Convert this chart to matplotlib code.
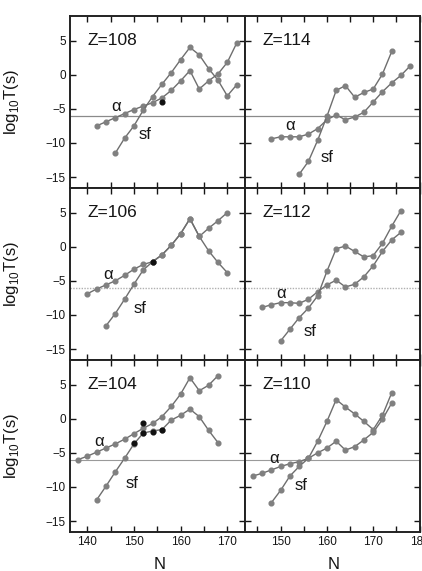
import matplotlib
matplotlib.use("Agg")
import matplotlib.pyplot as plt
from matplotlib.ticker import MultipleLocator, FuncFormatter

plt.rcParams['font.family'] = ['Liberation Sans', 'DejaVu Sans']

# ---------------- data: log10 of half-lives (s) versus neutron number N ----------------
# Z = 108
z108_alpha_n = [142, 144, 146, 148, 150, 152, 154, 156, 158, 160, 162, 164, 166, 168, 170, 172]
z108_alpha = [-7.5, -6.9, -6.3, -5.7, -5.1, -4.6, -4.1, -3.4, -2.3, -0.9, 0.6, -2.1, -0.9, 0.1, 1.8, 4.6]
z108_sf_n = [146, 148, 150, 152, 154, 156, 158, 160, 162, 164, 166, 168, 170, 172]
z108_sf = [-11.5, -9.3, -7.5, -5.2, -3.2, -1.4, 0.3, 2.2, 4.0, 2.9, 0.9, -0.8, -3.1, -1.5]
z108_exp_n = [156]
z108_exp = [-4.0]

# Z = 114
z114_alpha_n = [148, 150, 152, 154, 156, 158, 160, 162, 164, 166, 168, 170, 172, 174, 176, 178]
z114_alpha = [-9.4, -9.1, -9.1, -9.1, -8.7, -7.9, -6.6, -5.9, -6.6, -6.2, -5.5, -4.0, -2.5, -1.2, -0.1, 1.3]
z114_sf_n = [154, 156, 158, 160, 162, 164, 166, 168, 170, 172, 174]
z114_sf = [-14.6, -12.7, -9.6, -6.1, -2.3, -1.6, -3.3, -2.6, -2.1, 0.1, 3.4]

# Z = 106
z106_alpha_n = [140, 142, 144, 146, 148, 150, 152, 154, 156, 158, 160, 162, 164, 166, 168, 170]
z106_alpha = [-6.9, -6.2, -5.6, -5.0, -4.2, -3.3, -2.6, -2.2, -1.2, 0.2, 1.9, 4.1, 1.5, 2.7, 3.8, 5.0]
z106_sf_n = [144, 146, 148, 150, 152, 154, 156, 158, 160, 162, 164, 166, 168, 170]
z106_sf = [-11.6, -9.8, -7.7, -5.5, -3.4, -2.2, -1.2, 0.2, 1.9, 4.1, 1.5, -0.6, -2.3, -3.8]
z106_exp_n = [154]
z106_exp = [-2.3]

# Z = 112
z112_alpha_n = [146, 148, 150, 152, 154, 156, 158, 160, 162, 164, 166, 168, 170, 172, 174, 176]
z112_alpha = [-8.9, -8.5, -8.2, -8.2, -8.3, -7.7, -6.6, -5.6, -4.9, -5.9, -5.5, -4.4, -2.8, -0.7, 1.0, 2.1]
z112_sf_n = [150, 152, 154, 156, 158, 160, 162, 164, 166, 168, 170, 172, 174, 176]
z112_sf = [-13.8, -12.1, -10.4, -9.0, -7.2, -3.6, -0.3, 0.1, -0.7, -1.5, -1.3, 0.5, 3.0, 5.3]

# Z = 104
z104_alpha_n = [138, 140, 142, 144, 146, 148, 150, 152, 154, 156, 158, 160, 162, 164, 166, 168]
z104_alpha = [-6.0, -5.5, -4.9, -4.3, -3.7, -3.0, -2.2, -1.4, -0.7, 0.3, 1.8, 3.6, 6.0, 4.1, 4.9, 6.3]
z104_sf_n = [142, 144, 146, 148, 150, 152, 154, 156, 158, 160, 162, 164, 166, 168]
z104_sf = [-11.9, -9.9, -7.8, -5.8, -3.7, -2.1, -1.8, -1.6, -0.2, 0.5, 1.4, 0.3, -1.7, -3.5]
z104_exp_n = [150, 152, 152, 154, 156]
z104_exp = [-3.6, -0.7, -2.1, -1.9, -1.7]

# Z = 110
z110_alpha_n = [144, 146, 148, 150, 152, 154, 156, 158, 160, 162, 164, 166, 168, 170, 172, 174]
z110_alpha = [-8.4, -8.0, -7.5, -7.0, -6.6, -6.3, -5.8, -5.0, -4.3, -3.3, -4.6, -4.1, -3.1, -2.0, -0.1, 2.3]
z110_sf_n = [148, 150, 152, 154, 156, 158, 160, 162, 164, 166, 168, 170, 172, 174]
z110_sf = [-12.3, -10.5, -8.4, -7.0, -5.8, -3.3, -0.4, 2.8, 1.7, 0.7, -0.4, -1.6, 0.5, 3.8]

ref_level = -6.0  # 1 microsecond reference line

# ---------------- layout ----------------
W, H = 422, 571
fig = plt.figure(figsize=(W / 100, H / 100), dpi=100)

x_left, x_mid, x_right = 70, 245, 419.5
y_top, row_h = 16, 172

def panel_axes(row, col):
    x0 = x_left if col == 0 else x_mid
    x1 = x_mid if col == 0 else x_right
    top = y_top + row * row_h
    return fig.add_axes([x0 / W, 1 - (top + row_h) / H, (x1 - x0) / W, row_h / H])

line_col = '#6e6e6e'
mark_col = '#808080'
text_col = '#151515'

ref_styles = {
    0: dict(color='#8a8a8a', lw=0.9, ls='-'),
    1: dict(color='#b0b0b0', lw=1.0, ls=(0, (1.0, 1.0))),
    2: dict(color='#9a9a9a', lw=0.8, ls='-'),
}

panels = [
    # row, col, label, alpha series, sf series, exp points, alpha text pos, sf text pos
    (0, 0, 'Z=108', (z108_alpha_n, z108_alpha), (z108_sf_n, z108_sf), (z108_exp_n, z108_exp), (146.2, -4.6), (152.3, -8.8)),
    (0, 1, 'Z=114', (z114_alpha_n, z114_alpha), (z114_sf_n, z114_sf), None, (152.0, -7.4), (160.0, -12.2)),
    (1, 0, 'Z=106', (z106_alpha_n, z106_alpha), (z106_sf_n, z106_sf), (z106_exp_n, z106_exp), (144.4, -4.1), (151.3, -9.0)),
    (1, 1, 'Z=112', (z112_alpha_n, z112_alpha), (z112_sf_n, z112_sf), None, (150.0, -6.9), (156.3, -12.4)),
    (2, 0, 'Z=104', (z104_alpha_n, z104_alpha), (z104_sf_n, z104_sf), (z104_exp_n, z104_exp), (142.6, -3.3), (149.6, -9.5)),
    (2, 1, 'Z=110', (z110_alpha_n, z110_alpha), (z110_sf_n, z110_sf), None, (148.5, -5.9), (154.5, -9.8)),
]

def tens_only(v, pos):
    return f'{int(round(v))}' if abs(v - round(v / 10) * 10) < 1e-6 else ''

for row, col, zlab, (an, av), (sn, sv), exp, apos, spos in panels:
    ax = panel_axes(row, col)
    ax.set_xlim((136.3, 173.8) if col == 0 else (142.3, 180.0))
    ax.set_ylim(-16.6, 8.6)

    ax.axhline(ref_level, zorder=1, **ref_styles[row])
    ax.plot(an, av, color=line_col, lw=1.0, marker='o', ms=3.4,
            mfc=mark_col, mec=mark_col, zorder=3)
    ax.plot(sn, sv, color=line_col, lw=1.0, marker='o', ms=3.4,
            mfc=mark_col, mec=mark_col, zorder=3)
    if exp is not None:
        ax.plot(exp[0], exp[1], ls='none', marker='o', ms=3.4,
                mfc='#111111', mec='#111111', zorder=4)

    ax.text(0.10, 0.855, zlab, transform=ax.transAxes, fontsize=12.5,
            color=text_col, ha='left', va='center')
    ax.text(apos[0], apos[1], 'α', fontsize=12, color=text_col, ha='center', va='center')
    ax.text(spos[0], spos[1], 'sf', fontsize=12, color=text_col, ha='center', va='center')

    ax.xaxis.set_major_locator(MultipleLocator(5))
    ax.xaxis.set_major_formatter(FuncFormatter(tens_only))
    ax.yaxis.set_major_locator(MultipleLocator(5))
    ax.tick_params(direction='in', length=4.5, width=1.0, top=True, right=True,
                   labelsize=8.5, colors=text_col, pad=3)
    for sp in ax.spines.values():
        sp.set_linewidth(1.4)
        sp.set_color('#222222')

    if col == 0:
        ax.set_ylabel('log$_{\\mathregular{10}}$T(s)', fontsize=12, color=text_col)
        ax.yaxis.set_label_coords(-0.28, 0.5)
    else:
        ax.tick_params(labelleft=False)
    if row == 2:
        ax.set_xlabel('N', fontsize=12, color=text_col)
        ax.xaxis.set_label_coords(0.51, -0.145)
    else:
        ax.tick_params(labelbottom=False)

fig.savefig('out.png', dpi=100)
